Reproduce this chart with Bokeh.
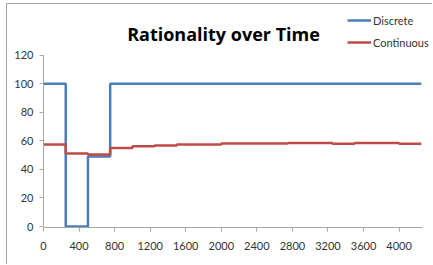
from bokeh.plotting import figure
from bokeh.models import Range1d, FixedTicker, Legend, LegendItem, Label
from bokeh.embed import file_html
from bokeh.resources import INLINE

time = [0, 250, 500, 750, 1000, 1250, 1500, 1750, 2000, 2250, 2500, 2750,
        3000, 3250, 3500, 3750, 4000, 4250]
discrete = [100, 0, 49, 100, 100, 100, 100, 100, 100, 100, 100, 100,
            100, 100, 100, 100, 100, 100]
continuous = [57.5, 51.2, 50.5, 55.1, 56.3, 56.8, 57.5, 57.5, 58.2, 58.2, 58.2, 58.6,
              58.6, 58.0, 58.6, 58.6, 58.0, 58.0]
x_ticks = [0, 400, 800, 1200, 1600, 2000, 2400, 2800, 3200, 3600, 4000]
y_ticks = [0, 20, 40, 60, 80, 100, 120]
title_text = "Rationality over Time"

FONT = "Lato"

# layout (pixels)
W, H = 426, 261
ML, MR, MT, MB = 36, 0, 0, 38
frame_w = W - ML - MR
frame_h = H - MT - MB
px_x = 355.6 / 4000.0        # px per x unit
px_y = 171.2 / 120.0         # px per y unit
y0 = -0.7
x_end = frame_w / px_x
y_end = y0 + frame_h / px_y

p = figure(width=W, height=H, output_backend="svg", toolbar_location=None,
           x_range=Range1d(0, x_end), y_range=Range1d(y0, y_end),
           min_border_left=ML, min_border_right=MR, min_border_top=MT, min_border_bottom=MB,
           styles={"margin-left": "6px", "margin-top": "3px",
                   "border-left": "1px solid #a6a6a6", "border-top": "1px solid #a6a6a6"})
p.outline_line_color = None
p.grid.visible = False
p.background_fill_color = "white"
p.border_fill_color = "white"

for ax in (p.xaxis[0], p.yaxis[0]):
    ax.axis_line_color = "#a6a6a6"
    ax.major_tick_line_color = "#a6a6a6"
    ax.minor_tick_line_color = None
    ax.major_tick_out = 4
    ax.major_tick_in = 0
    ax.major_label_text_font = FONT
    ax.major_label_text_font_size = "11px"
    ax.major_label_text_color = "#333333"

p.xaxis.ticker = FixedTicker(ticks=x_ticks)
p.yaxis.ticker = FixedTicker(ticks=y_ticks)
p.xaxis.bounds = (0, 4260)
p.yaxis.bounds = (0, 120)
p.xaxis.major_label_standoff = 10
p.yaxis.major_label_standoff = 6

r1 = p.step(time, discrete, mode="after", line_color="#4a7ebb", line_width=2.5)
r2 = p.step(time, continuous, mode="after", line_color="#be4b48", line_width=2.5)

title = Label(x=(223 - 43) / px_x, y=(226 - 33.3) / px_y, text=title_text,
              text_align="center", text_baseline="alphabetic",
              text_font="Open Sans", text_font_size="18px", text_font_style="bold",
              text_color="black")
p.add_layout(title)

legend = Legend(items=[LegendItem(label="Discrete", renderers=[r1]),
                       LegendItem(label="Continuous", renderers=[r2])],
                location=(304, 175), orientation="vertical",
                glyph_width=24, glyph_height=20, spacing=2, padding=0, margin=0,
                label_standoff=2, border_line_color=None, background_fill_alpha=0,
                label_text_font=FONT, label_text_font_size="11px", label_text_color="#333333")
p.add_layout(legend, "center")

open("out.html", "w").write(file_html(p, INLINE))
